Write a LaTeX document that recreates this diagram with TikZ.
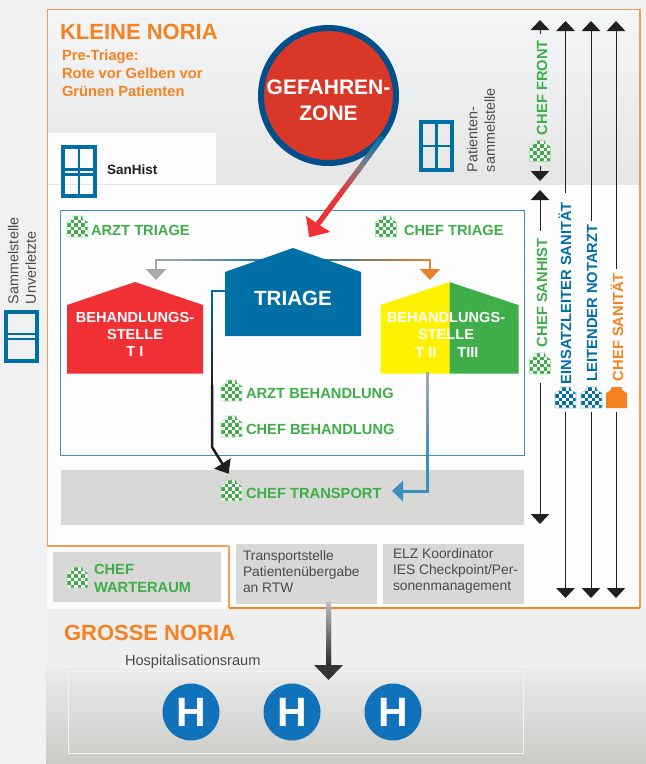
\documentclass[tikz,border=0pt]{standalone}
\usepackage{fontspec}
\setmainfont{Liberation Sans}
\usetikzlibrary{calc,arrows.meta,shapes.geometric}
\definecolor{pagebg}{HTML}{EFF1F3}
\definecolor{panelw}{HTML}{FDFDFD}
\definecolor{ora}{HTML}{F58220}
\definecolor{oral}{HTML}{F79C52}
\definecolor{orad}{HTML}{E3832B}
\definecolor{grn}{HTML}{3FAE49}
\definecolor{blu}{HTML}{006FA6}
\definecolor{bluline}{HTML}{3E8FBD}
\definecolor{boxg}{HTML}{D8D8D6}
\definecolor{blk}{HTML}{231F20}
\definecolor{txtg}{HTML}{4A4A4A}
\definecolor{redh}{HTML}{EF3034}
\definecolor{yel}{HTML}{FFF200}
\definecolor{hblu}{HTML}{1072BA}
\definecolor{gry}{HTML}{A7A9AC}
\definecolor{lgry}{HTML}{BDBDBD}
\definecolor{dkg}{HTML}{333333}
\definecolor{ring}{HTML}{004F8A}
\definecolor{danger}{HTML}{D93829}
\definecolor{midg}{HTML}{8A7C80}
\definecolor{grosstop}{HTML}{EFEFEF}
\definecolor{grossa}{HTML}{EBEBEB}
\definecolor{grossb}{HTML}{CACAC6}
\tikzset{
  txt/.style={inner sep=0pt,outer sep=0pt},
  bigt/.style={txt,text=ora,font=\bfseries\fontsize{22}{24}\selectfont,anchor=base west},
  chef/.style={txt,text=grn,font=\bfseries\fontsize{14.7}{18}\selectfont,anchor=base west},
  vchef/.style={txt,font=\bfseries\fontsize{14.7}{18}\selectfont,anchor=base west,rotate=90},
  house/.style={txt,text=white,font=\bfseries\fontsize{14.6}{17}\selectfont,anchor=north,align=center},
  small/.style={txt,text=txtg,font=\fontsize{13.8}{16}\selectfont,anchor=north west,align=left},
  vsmall/.style={txt,text=txtg,font=\fontsize{14.4}{17.5}\selectfont,anchor=south west,align=left,rotate=90},
  win/.style={draw=blu,line width=4pt},
  winbar/.style={draw=blu,line width=2.6pt},
  vline/.style={draw=blk,line width=1pt,-{Triangle[length=10pt,width=18.5pt]}},
  hcirc/.style={circle,fill=hblu,minimum size=57pt,inner sep=0pt,text=white,font=\bfseries\fontsize{41}{41}\selectfont},
}
\newcommand\gradline[5]{%
  \foreach \k in {0,...,29}{%
    \pgfmathsetmacro\ta{\k/30}%
    \pgfmathsetmacro\tb{(\k+1)/30}%
    \pgfmathsetmacro\pc{100*\k/29}%
    \draw[line width=#3,line cap=rect,color={#5!\pc!#4}] ($(#1)!\ta!(#2)$) -- ($(#1)!\tb!(#2)$);
  }%
}
\newcommand\iconpath{(5.5,0) -- (15.5,0) -- (16,3) -- (21,6) -- (21,21) -- (0,21) -- (0,6) -- (5,3) -- cycle}
\newcommand\ckicon[3]{%
  \begin{scope}[shift={(#1,#2)}]
    \fill[white] \iconpath;
    \begin{scope}
      \clip \iconpath;
      \foreach \i in {0,...,5}{\foreach \j in {0,...,5}{%
        \pgfmathtruncatemacro\odd{mod(\i+\j,2)}%
        \ifnum\odd=0
          \fill[#3] ({\i*3.5},{\j*3.5}) rectangle ({\i*3.5+3.5},{\j*3.5+3.5});
        \fi
      }}
    \end{scope}
    \draw[#3!40,line width=.6pt] \iconpath;
  \end{scope}%
}
\begin{document}
\begin{tikzpicture}[x=1pt,y=-1pt]
\useasboundingbox (0,0) rectangle (646,764);
\fill[pagebg] (0,0) rectangle (646,764);
% panels
\fill[panelw] (47,9) rectangle (640,609);
\shade[top color=white!30!pagebg,bottom color=black!10] (47,10) rectangle (640,184);
\fill[panelw] (47,133) rectangle (216,184);
\fill[grosstop] (46,609) rectangle (646,668);
\shade[top color=grossa,bottom color=grossb] (46,668) rectangle (646,764);
\fill[panelw] (47,546) rectangle (229,609);
\draw[oral,line width=1.4pt] (229,546) -- (47.5,546) -- (47.5,9.5) -- (640,9.5) -- (640,608);
\draw[ora,line width=1.2pt] (640,608) -- (229,608);
\draw[oral,line width=1.4pt] (229,608) -- (229,546);
% inner boxes
\draw[bluline,line width=1pt,fill=panelw] (60.5,210) rectangle (524,455);
\fill[boxg] (61,470) rectangle (524,525);
\fill[boxg] (53,552) rectangle (221,602);
\fill[boxg] (236,544) rectangle (377,604);
\fill[boxg] (383,544) rectangle (524,604);
\draw[white!75!grossb,line width=1pt] (68,671) rectangle (523,753);
% windows
\draw[win] (63,147) rectangle (95,196);
\draw[winbar] (79,147) -- (79,196);
\draw[winbar] (63,169.5) -- (95,169.5);
\draw[winbar] (63,174.5) -- (95,174.5);
\draw[win] (421,122) rectangle (452,170);
\draw[winbar] (436.5,122) -- (436.5,170);
\draw[winbar] (421,146) -- (452,146);
\draw[win] (6,312) rectangle (37,361);
\draw[winbar] (6,334) -- (37,334);
\draw[winbar] (6,339) -- (37,339);
% titles
\node[bigt] (kleine) at (60,39) {KLEINE NORIA};
\node[txt,anchor=north west,align=left,text=ora,font=\bfseries\fontsize{14.7}{18}\selectfont] (pretriage) at (62,49.5) {Pre-Triage:\\Rote vor Gelben vor\\Grünen Patienten};
\node[txt,anchor=base west,text=blk,font=\bfseries\fontsize{13.5}{16}\selectfont] (sanhist) at (107,174) {SanHist};
\node[vsmall] (sammel) at (36,304) {Sammelstelle\\Unverletzte};
\node[vsmall] (patsammel) at (495,172) {Patienten-\\sammelstelle};
\node[bigt] (grosse) at (64,640) {GROSSE NORIA};
\node[txt,anchor=base west,text=txtg,font=\fontsize{14.6}{17}\selectfont] (hospraum) at (125,665) {Hospitalisationsraum};
% connectors coordinates
\coordinate (triC) at (293,260);
\coordinate (gL) at (156,260);
\coordinate (gS) at (156,269);
\coordinate (gT) at (156,280);
\coordinate (oR) at (430,260);
\coordinate (oS) at (430,269);
\coordinate (oT) at (430,280);
\coordinate (bA) at (225,291);
\coordinate (bB) at (212,291);
\coordinate (bC) at (212,385);
\coordinate (bD) at (212,447);
\coordinate (bT) at (228.7,473.7);
\coordinate (uA) at (427,373);
\coordinate (uB) at (427,460);
\coordinate (uM) at (427,491);
\coordinate (uC) at (403,491);
\coordinate (uT) at (392,491);
\coordinate (dA) at (328.5,604);
\coordinate (dB) at (328.5,665);
\coordinate (dT) at (328.5,680);
\coordinate (cA) at (381,139);
\coordinate (cM) at (358,170.5);
\coordinate (cN) at (338,197);
\coordinate (cB) at (318,224);
\coordinate (cT) at (309.2,237.3);
% triage branches
\gradline{triC}{gL}{2.6pt}{blu}{gry}
\gradline{gL}{gS}{2.6pt}{gry}{gry}
\draw[gry,line width=2.6pt,-{Triangle[length=11pt,width=20pt]}] (gS) -- (gT);
\gradline{triC}{oR}{2.6pt}{blu}{orad}
\gradline{oR}{oS}{2.6pt}{orad}{orad}
\draw[orad,line width=2.6pt,-{Triangle[length=11pt,width=20pt]}] (oS) -- (oT);
% black arrow
\gradline{bA}{bB}{2.5pt}{blu}{blu}
\gradline{bB}{bC}{2.5pt}{blu}{blk}
\draw[blk,line width=2.5pt,line join=miter,-{Triangle[length=12pt,width=19pt]}] (bC) -- (bD) -- (bT);
% houses
\fill[blu] (225,272) -- (293,248) -- (361,272) -- (361,336) -- (225,336) -- cycle;
\node[txt,text=white,font=\bfseries\fontsize{20.6}{22}\selectfont,anchor=base] (triage) at (293,305) {TRIAGE};
\fill[redh] (67,305) -- (135,282) -- (203,305) -- (203,373.5) -- (67,373.5) -- cycle;
\node[house] (beh1) at (135,312.6) {BEHANDLUNGS-\\STELLE\\T I};
\fill[yel] (380.5,305) -- (449.5,282) -- (449.5,373.5) -- (380.5,373.5) -- cycle;
\fill[grn] (449.5,282) -- (518.5,305) -- (518.5,373.5) -- (449.5,373.5) -- cycle;
\node[house] (beh2) at (446,312.6) {BEHANDLUNGS-\\STELLE};
\node[txt,text=white,font=\bfseries\fontsize{14.6}{17}\selectfont,anchor=base] (t2) at (426,357) {T II};
\node[txt,text=white,font=\bfseries\fontsize{14.6}{17}\selectfont,anchor=base] (t3) at (468,357) {TIII};
% blue arrow
\gradline{uA}{uB}{3pt}{gry}{bluline}
\gradline{uB}{uM}{3pt}{bluline}{bluline}
\gradline{uM}{uC}{3pt}{bluline}{bluline}
\draw[bluline,line width=3pt,-{Triangle[length=11pt,width=20pt]}] (uC) -- (uT);
% hospital arrow
\gradline{dA}{dB}{5pt}{lgry}{dkg}
\draw[dkg,line width=5pt,-{Triangle[length=15pt,width=28pt]}] (dB) -- (dT);
% danger zone
\node[circle,draw=ring,fill=danger,line width=6pt,minimum size=135pt,inner sep=0pt] (gefahr) at (328.5,95.5) {};
\node[txt,text=white,align=center,font=\bfseries\fontsize{21}{26}\selectfont] (gefahrtxt) at (328.5,100.5) {GEFAHREN-\\ZONE};
\gradline{cA}{cM}{4.7pt}{blu}{midg}
\gradline{cM}{cN}{4.7pt}{midg}{redh}
\gradline{cN}{cB}{4.7pt}{redh}{redh}
\draw[redh,line width=4.7pt,-{Triangle[length=16pt,width=28pt]}] (cB) -- (cT);
% chef labels
\ckicon{67}{216}{grn}
\node[chef] (arzttriage) at (91,235) {ARZT TRIAGE};
\ckicon{375.5}{216}{grn}
\node[chef] (cheftriage) at (404,235) {CHEF TRIAGE};
\ckicon{221}{380}{grn}
\node[chef] (arztbeh) at (246,398) {ARZT BEHANDLUNG};
\ckicon{221}{416}{grn}
\node[chef] (chefbeh) at (246,434) {CHEF BEHANDLUNG};
\ckicon{221}{480}{grn}
\node[chef] (cheftrans) at (246,498) {CHEF TRANSPORT};
\ckicon{67}{567}{grn}
\node[txt,anchor=north west,align=left,text=grn,font=\bfseries\fontsize{14.7}{18}\selectfont] (chefwarte) at (94,564.5) {CHEF\\WARTERAUM};
\node[small] (transportst) at (243,550) {Transportstelle\\Patientenübergabe\\an RTW};
\node[small] (elz) at (393,548) {ELZ Koordinator\\IES Checkpoint/Per-\\sonenmanagement};
% hospitals
\node[hcirc] (h1) at (191,712) {H};
\node[hcirc] (h2) at (292,712) {H};
\node[hcirc] (h3) at (393,712) {H};
% right column
\node[vchef,text=grn] (front) at (547,135) {CHEF FRONT};
\ckicon{529.5}{140.5}{grn}
\node[vchef,text=grn] (csan) at (547,347) {CHEF SANHIST};
\ckicon{529.5}{353}{grn}
\node[vchef,text=blu] (einsatz) at (571,384) {EINSATZLEITER SANITÄT};
\ckicon{555}{387}{blu}
\node[vchef,text=blu] (notarzt) at (597,381) {LEITENDER NOTARZT};
\ckicon{581}{387}{blu}
\node[vchef,text=ora] (csanit) at (623,381) {CHEF SANITÄT};
\fill[ora] (611.5,387) -- (621.5,387) -- (622,390) -- (627,393) -- (627,408) -- (606,408) -- (606,393) -- (611,390) -- cycle;
\coordinate (a1) at (540,34); \coordinate (a1t) at (540,20);
\coordinate (a2) at (540,166); \coordinate (a2t) at (540,181);
\coordinate (a3) at (540,231); \coordinate (a3t) at (540,190);
\coordinate (a4) at (540,383); \coordinate (a4t) at (540,524);
\coordinate (b1) at (565.5,193); \coordinate (b1t) at (565.5,21);
\coordinate (b2) at (565.5,412); \coordinate (b2t) at (565.5,598);
\coordinate (c1) at (591,221); \coordinate (c1t) at (591,21);
\coordinate (c2) at (591,412); \coordinate (c2t) at (591,598);
\coordinate (d1) at (616,269); \coordinate (d1t) at (616,21);
\coordinate (d2) at (616,412); \coordinate (d2t) at (616,598);
\draw[vline] (a1) -- (a1t);
\draw[vline] (a2) -- (a2t);
\draw[vline] (a3) -- (a3t);
\draw[vline] (a4) -- (a4t);
\draw[vline] (b1) -- (b1t);
\draw[vline] (b2) -- (b2t);
\draw[vline] (c1) -- (c1t);
\draw[vline] (c2) -- (c2t);
\draw[vline] (d1) -- (d1t);
\draw[vline] (d2) -- (d2t);
\end{tikzpicture}
\end{document}
